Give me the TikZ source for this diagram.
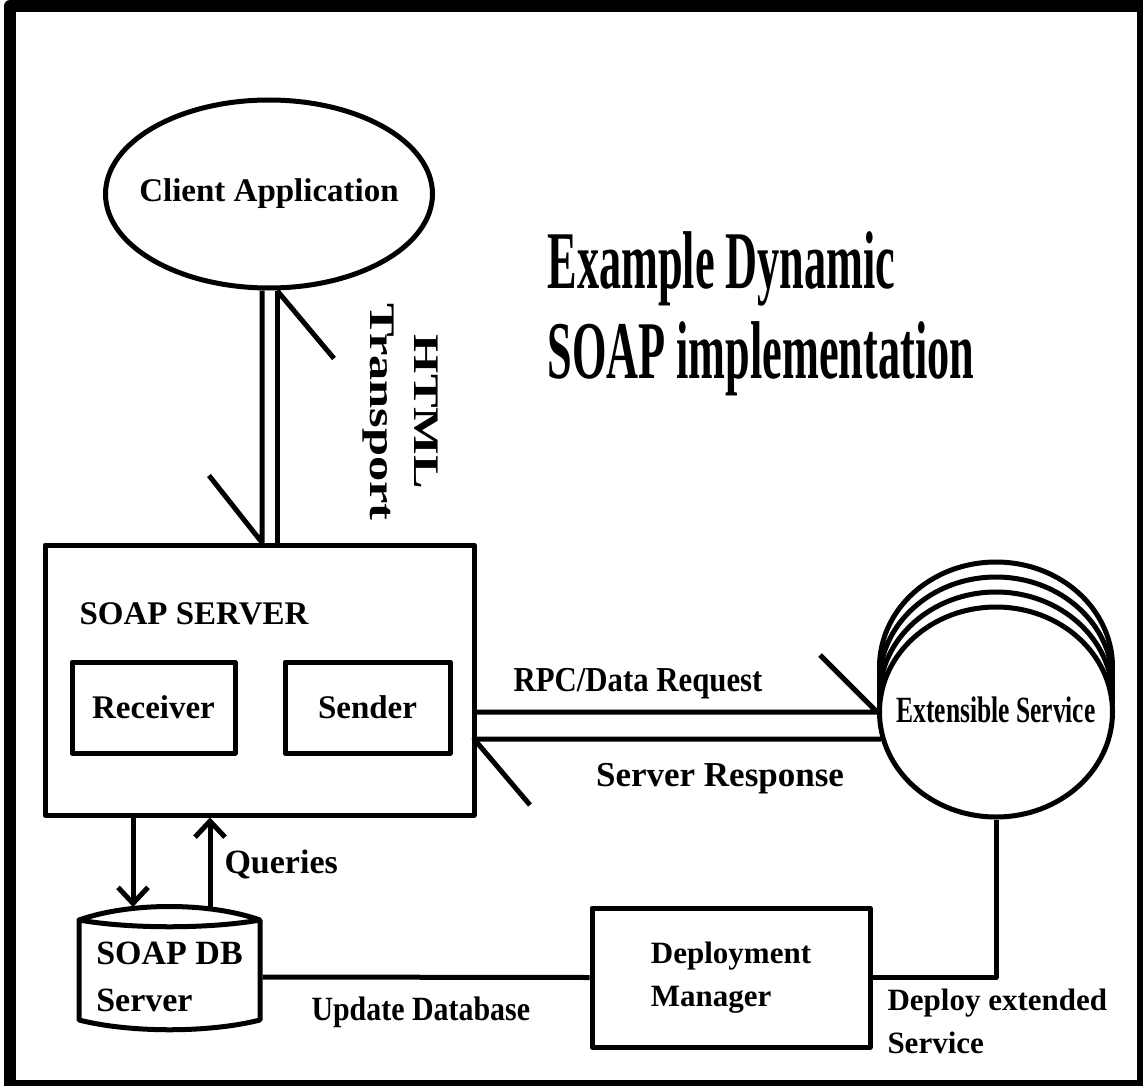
\documentclass[tikz,border=0pt]{standalone}
\usepackage{fontspec}
\setmainfont{Liberation Serif}
\newfontfamily\titlefont{Liberation Serif}[FakeStretch=0.54]
\newfontfamily\slimfont{Liberation Serif}[FakeStretch=0.69]
\newfontfamily\narrowfont{Liberation Serif}[FakeStretch=0.88]
\newfontfamily\widefont{Liberation Serif}[FakeStretch=1.4]
\usetikzlibrary{arrows.meta,shapes.geometric,calc}

\begin{document}
\begin{tikzpicture}[x=1pt,y=-1pt,line width=5pt,line join=round,>={Straight Barb[length=16pt,width=30pt]}]
        \tikzstyle{box} = [draw,rectangle,inner sep=0pt]
        \tikzstyle{bubble} = [draw,ellipse,fill=white,inner sep=0pt]
        \tikzstyle{txt} = [inner sep=0pt,font=\bfseries\fontsize{33}{38}\selectfont]


        \useasboundingbox (0,0) rectangle (1143,1086);
        \draw[line width=12pt] (10,6) rectangle (1143,1086);


        \node[bubble,minimum width=327pt,minimum height=188pt] (client) at (269,194){};
        \node[txt] (clienttxt) at (client){Client Application};
        \node[box,minimum width=429pt,minimum height=270pt] (server) at (259.5,680){};
        \node[txt,anchor=base west] (soaplabel) at (77,624){SOAP SERVER};
        \node[box,txt,minimum width=163pt,minimum height=91pt] (receiver) at (153.5,707.5){Receiver};
        \node[box,txt,minimum width=165pt,minimum height=91pt] (sender) at (367.5,707.5){Sender};

        \node[bubble,minimum width=233pt,minimum height=210pt] (svc3) at (996,667){};
        \node[bubble,minimum width=233pt,minimum height=210pt] (svc2) at (996,682){};
        \node[bubble,minimum width=233pt,minimum height=210pt] (svc1) at (996,697){};
        \node[bubble,minimum width=233pt,minimum height=210pt] (service) at (996,712){};
        \node[txt,font=\slimfont\bfseries\fontsize{37}{42}\selectfont] (servicetxt) at (996,710){Extensible Service};

        \node[box,txt,align=left,minimum width=278pt,minimum height=139pt,font=\bfseries\fontsize{31}{43}\selectfont] (deploy) at (731,977.5){Deployment\\Manager};
        \node[txt,align=left,minimum width=181pt,minimum height=100pt,font=\bfseries\fontsize{34}{47}\selectfont] (db) at (169.5,977){SOAP DB\\Server};
        \draw (79,920) .. controls (130,902) and (209,902) .. (260,920)
              .. controls (209,929) and (130,929) .. (79,920) -- (79,1020)
              .. controls (130,1033) and (209,1033) .. (260,1020) -- (260,920);


        \node[txt,anchor=base west,align=left,font=\titlefont\bfseries\fontsize{82}{90}\selectfont] (title) at (545,378){Example Dynamic\\SOAP implementation};
        \node[txt,rotate=-90,align=center,font=\widefont\bfseries\fontsize{36}{44}\selectfont] (transport) at (400,412){HTML\\Transport};
        \node[txt,anchor=base,font=\narrowfont\bfseries\fontsize{35}{40}\selectfont] (rpc) at (638,691){RPC/Data Request};
        \node[txt,anchor=base,font=\bfseries\fontsize{35}{40}\selectfont] (response) at (720,786){Server Response};
        \node[txt,anchor=base west,font=\bfseries\fontsize{34}{40}\selectfont] (queries) at (222,873){Queries};
        \node[txt,anchor=base west,font=\narrowfont\bfseries\fontsize{34}{40}\selectfont] (update) at (309,1020){Update Database};
        \node[txt,anchor=base west,align=left,font=\bfseries\fontsize{31}{43}\selectfont] (deploytxt) at (885,1053){Deploy extended\\Service};


        \draw ([xshift=-7pt]client.south) -- ([xshift=-7pt]client.south |- server.north) -- ++(-53,-67);
        \draw ([xshift=8pt]client.south) -- ([xshift=8pt]client.south |- server.north);
        \draw ([xshift=8pt]client.south) -- ++(57,68);

        \coordinate (rq) at (474,712);
        \coordinate (rs) at (474,739);
        \draw (rq) -- (rq -| service.west) -- ++(-57,-57);
        \draw ($(rs -| service.west)+(4,0)$) -- (rs) -- ++(56,66);

        \coordinate (dbin) at (133,907);
        \coordinate (dbout) at (210,908);
        \draw[->] (server.south -| dbin) -- (dbin);
        \draw[->] (dbout) -- (dbout |- server.south);

        \draw (db.east) -- (deploy.west);
        \draw (service.south) |- (deploy.east);


    \end{tikzpicture}
\end{document}
